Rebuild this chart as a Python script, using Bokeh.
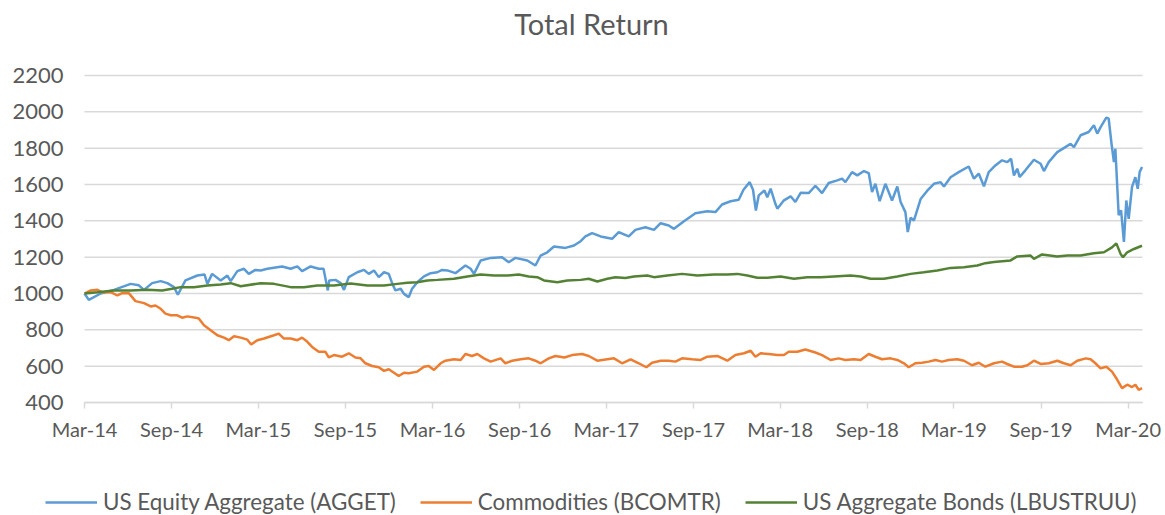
import pandas as pd
from bokeh.plotting import figure
from bokeh.models import Range1d, FixedTicker, DatetimeTickFormatter, Legend, LegendItem, Label
from bokeh.embed import file_html
from bokeh.resources import INLINE

title_text = "Total Return"
series_names = ["US Equity Aggregate (AGGET)", "Commodities (BCOMTR)", "US Aggregate Bonds (LBUSTRUU)"]

equity_dates = [
    "2014-03-31", "2014-04-09", "2014-05-04", "2014-06-01", "2014-07-06", "2014-07-23", "2014-08-03", "2014-08-20",
    "2014-09-07", "2014-09-21", "2014-10-05", "2014-10-13", "2014-10-29", "2014-11-23", "2014-12-08", "2014-12-14",
    "2014-12-24", "2015-01-11", "2015-01-25", "2015-02-01", "2015-02-15", "2015-03-01", "2015-03-11", "2015-03-25",
    "2015-04-05", "2015-04-19", "2015-05-20", "2015-06-07", "2015-06-21", "2015-07-01", "2015-07-19", "2015-08-05",
    "2015-08-15", "2015-08-24", "2015-08-27", "2015-09-09", "2015-09-20", "2015-09-27", "2015-10-07", "2015-10-25",
    "2015-11-08", "2015-11-18", "2015-11-29", "2015-12-09", "2015-12-20", "2015-12-30", "2016-01-06", "2016-01-13",
    "2016-01-24", "2016-01-31", "2016-02-10", "2016-02-17", "2016-02-28", "2016-03-13", "2016-03-27", "2016-04-10",
    "2016-04-20", "2016-05-01", "2016-05-18", "2016-06-08", "2016-06-19", "2016-06-26", "2016-07-10", "2016-07-31",
    "2016-08-24", "2016-09-07", "2016-09-21", "2016-10-16", "2016-11-02", "2016-11-13", "2016-11-27", "2016-12-11",
    "2017-01-04", "2017-01-22", "2017-02-05", "2017-02-15", "2017-03-01", "2017-03-19", "2017-04-12", "2017-04-26",
    "2017-05-17", "2017-05-31", "2017-06-21", "2017-07-09", "2017-07-23", "2017-08-09", "2017-08-20", "2017-09-10",
    "2017-10-04", "2017-10-29", "2017-11-15", "2017-11-29", "2017-12-17", "2018-01-03", "2018-01-13", "2018-01-26",
    "2018-02-02", "2018-02-08", "2018-02-14", "2018-02-26", "2018-03-04", "2018-03-11", "2018-03-21", "2018-03-25",
    "2018-04-08", "2018-04-22", "2018-05-02", "2018-05-13", "2018-05-30", "2018-06-13", "2018-06-27", "2018-07-11",
    "2018-07-29", "2018-08-08", "2018-08-15", "2018-08-29", "2018-09-09", "2018-09-23", "2018-10-03", "2018-10-10",
    "2018-10-17", "2018-10-26", "2018-11-07", "2018-11-21", "2018-12-02", "2018-12-09", "2018-12-19", "2018-12-24",
    "2018-12-30", "2019-01-06", "2019-01-20", "2019-02-03", "2019-02-17", "2019-03-03", "2019-03-10", "2019-03-24",
    "2019-04-10", "2019-05-01", "2019-05-12", "2019-05-22", "2019-06-02", "2019-06-12", "2019-06-26", "2019-07-10",
    "2019-07-21", "2019-07-29", "2019-08-04", "2019-08-11", "2019-08-16", "2019-08-28", "2019-09-15", "2019-09-29",
    "2019-10-06", "2019-10-16", "2019-11-03", "2019-11-20", "2019-12-01", "2019-12-08", "2019-12-22", "2020-01-08",
    "2020-01-19", "2020-01-26", "2020-02-02", "2020-02-14", "2020-02-19", "2020-02-25", "2020-03-01", "2020-03-04",
    "2020-03-08", "2020-03-11", "2020-03-16", "2020-03-22", "2020-03-27", "2020-04-01", "2020-04-08", "2020-04-15",
    "2020-04-20", "2020-04-24", "2020-04-29",
]
equity_values = [
    1000, 965, 1000, 1020, 1053, 1045, 1020, 1057,
    1068, 1057, 1035, 993, 1072, 1099, 1105, 1053,
    1108, 1072, 1099, 1068, 1123, 1136, 1108, 1130,
    1127, 1136, 1149, 1136, 1149, 1123, 1149, 1136,
    1136, 1017, 1072, 1075, 1057, 1020, 1090, 1117,
    1130, 1108, 1127, 1090, 1117, 1108, 1057, 1017,
    1026, 998, 980, 1026, 1062, 1094, 1112, 1117,
    1130, 1127, 1112, 1154, 1136, 1108, 1182, 1196,
    1200, 1172, 1196, 1182, 1154, 1209, 1227, 1259,
    1251, 1264, 1288, 1314, 1332, 1314, 1301, 1338,
    1314, 1350, 1365, 1350, 1387, 1374, 1356, 1398,
    1442, 1453, 1448, 1490, 1508, 1516, 1571, 1613,
    1571, 1457, 1540, 1567, 1530, 1577, 1494, 1467,
    1513, 1535, 1504, 1554, 1553, 1593, 1553, 1608,
    1623, 1632, 1613, 1668, 1650, 1674, 1663, 1558,
    1604, 1508, 1604, 1512, 1589, 1504, 1448, 1338,
    1417, 1402, 1520, 1566, 1604, 1613, 1589, 1640,
    1668, 1699, 1632, 1660, 1590, 1668, 1705, 1733,
    1723, 1742, 1650, 1687, 1641, 1678, 1736, 1714,
    1674, 1723, 1778, 1806, 1824, 1806, 1871, 1889,
    1926, 1880, 1916, 1968, 1962, 1824, 1723, 1797,
    1587, 1431, 1458, 1284, 1512, 1411, 1587, 1640,
    1576, 1668, 1696,
]

commod_dates = [
    "2014-03-31", "2014-04-13", "2014-04-27", "2014-05-07", "2014-05-25", "2014-06-08", "2014-06-18", "2014-07-02",
    "2014-07-16", "2014-08-03", "2014-08-17", "2014-08-27", "2014-09-07", "2014-09-17", "2014-09-28", "2014-10-12",
    "2014-10-22", "2014-11-02", "2014-11-19", "2014-11-26", "2014-12-07", "2014-12-21", "2015-01-04", "2015-01-18",
    "2015-01-28", "2015-02-08", "2015-02-22", "2015-03-08", "2015-03-16", "2015-03-29", "2015-04-12", "2015-05-03",
    "2015-05-13", "2015-05-24", "2015-06-07", "2015-06-21", "2015-07-01", "2015-07-12", "2015-07-22", "2015-08-05",
    "2015-08-19", "2015-08-26", "2015-09-06", "2015-09-23", "2015-10-07", "2015-10-21", "2015-11-01", "2015-11-11",
    "2015-11-25", "2015-12-09", "2015-12-20", "2015-12-30", "2016-01-10", "2016-01-20", "2016-01-31", "2016-02-10",
    "2016-02-28", "2016-03-13", "2016-03-23", "2016-04-03", "2016-04-17", "2016-04-27", "2016-05-15", "2016-05-29",
    "2016-06-08", "2016-06-22", "2016-07-03", "2016-07-17", "2016-07-31", "2016-08-21", "2016-08-31", "2016-09-14",
    "2016-10-02", "2016-10-19", "2016-11-02", "2016-11-13", "2016-11-30", "2016-12-14", "2017-01-02", "2017-01-18",
    "2017-02-08", "2017-02-22", "2017-03-12", "2017-04-02", "2017-04-16", "2017-05-03", "2017-05-21", "2017-06-07",
    "2017-06-23", "2017-07-05", "2017-07-23", "2017-08-09", "2017-08-23", "2017-09-06", "2017-09-27", "2017-10-15",
    "2017-10-29", "2017-11-19", "2017-12-10", "2017-12-27", "2018-01-14", "2018-01-28", "2018-02-07", "2018-02-18",
    "2018-03-07", "2018-03-25", "2018-04-08", "2018-04-18", "2018-05-06", "2018-05-23", "2018-06-13", "2018-06-27",
    "2018-07-15", "2018-08-01", "2018-08-15", "2018-09-02", "2018-09-16", "2018-10-03", "2018-10-17", "2018-10-31",
    "2018-11-18", "2018-12-02", "2018-12-16", "2018-12-26", "2019-01-09", "2019-01-23", "2019-02-06", "2019-02-20",
    "2019-03-06", "2019-03-20", "2019-04-07", "2019-04-21", "2019-05-08", "2019-05-22", "2019-06-05", "2019-06-23",
    "2019-07-10", "2019-07-21", "2019-08-04", "2019-08-21", "2019-09-01", "2019-09-15", "2019-09-29", "2019-10-16",
    "2019-11-03", "2019-11-17", "2019-12-01", "2019-12-15", "2020-01-02", "2020-01-12", "2020-01-22", "2020-02-02",
    "2020-02-14", "2020-02-26", "2020-03-08", "2020-03-18", "2020-03-29", "2020-04-08", "2020-04-15", "2020-04-22",
    "2020-04-29",
]
commod_values = [
    1000, 1017, 1020, 1007, 1007, 989, 1002, 1002,
    958, 947, 929, 934, 916, 889, 880, 880,
    867, 874, 867, 862, 825, 798, 770, 757,
    743, 765, 757, 746, 719, 743, 752, 770,
    779, 752, 752, 743, 757, 734, 706, 679,
    679, 648, 661, 652, 671, 648, 643, 616,
    601, 594, 574, 583, 564, 546, 564, 561,
    570, 597, 601, 579, 616, 630, 638, 634,
    667, 656, 667, 643, 625, 643, 616, 630,
    638, 643, 630, 616, 643, 656, 648, 661,
    667, 656, 630, 638, 643, 616, 638, 616,
    594, 619, 630, 630, 625, 643, 638, 634,
    652, 656, 630, 661, 671, 685, 652, 671,
    667, 661, 661, 679, 679, 692, 675, 661,
    634, 643, 634, 638, 634, 667, 652, 638,
    643, 634, 616, 594, 616, 619, 625, 634,
    625, 634, 638, 630, 605, 619, 597, 616,
    625, 612, 597, 597, 605, 630, 612, 616,
    630, 616, 605, 630, 643, 638, 616, 588,
    597, 570, 525, 479, 498, 485, 498, 470,
    479,
]

bond_dates = [
    "2014-03-31", "2014-04-27", "2014-06-01", "2014-07-06", "2014-08-10", "2014-09-10", "2014-10-01", "2014-10-19",
    "2014-11-16", "2014-12-14", "2015-01-11", "2015-02-01", "2015-02-22", "2015-04-05", "2015-05-03", "2015-06-07",
    "2015-07-05", "2015-08-02", "2015-09-06", "2015-10-11", "2015-11-15", "2015-12-20", "2016-01-17", "2016-02-07",
    "2016-02-28", "2016-03-20", "2016-04-10", "2016-05-15", "2016-06-12", "2016-07-10", "2016-08-07", "2016-09-04",
    "2016-09-28", "2016-10-19", "2016-11-06", "2016-11-20", "2016-12-18", "2017-01-08", "2017-02-05", "2017-02-22",
    "2017-03-12", "2017-04-02", "2017-04-19", "2017-05-10", "2017-05-28", "2017-06-25", "2017-07-09", "2017-08-06",
    "2017-09-06", "2017-10-08", "2017-11-12", "2017-12-10", "2017-12-31", "2018-01-21", "2018-02-11", "2018-03-04",
    "2018-04-01", "2018-04-29", "2018-05-27", "2018-06-24", "2018-07-22", "2018-08-26", "2018-09-16", "2018-10-07",
    "2018-11-04", "2018-12-02", "2018-12-30", "2019-01-27", "2019-02-24", "2019-03-24", "2019-04-21", "2019-05-19",
    "2019-06-05", "2019-06-23", "2019-07-28", "2019-08-11", "2019-09-08", "2019-09-15", "2019-10-02", "2019-11-03",
    "2019-11-24", "2019-12-22", "2020-01-19", "2020-02-09", "2020-02-26", "2020-03-06", "2020-03-15", "2020-03-20",
    "2020-03-29", "2020-04-12", "2020-04-29",
]
bond_values = [
    1000, 1007, 1017, 1017, 1020, 1017, 1026, 1035,
    1035, 1044, 1050, 1057, 1040, 1057, 1053, 1035,
    1035, 1044, 1044, 1055, 1044, 1044, 1053, 1059,
    1062, 1072, 1075, 1081, 1094, 1105, 1099, 1099,
    1105, 1094, 1090, 1072, 1062, 1072, 1075, 1081,
    1066, 1081, 1090, 1085, 1094, 1099, 1090, 1099,
    1108, 1099, 1105, 1105, 1108, 1099, 1087, 1087,
    1094, 1081, 1090, 1090, 1094, 1099, 1094, 1081,
    1081, 1094, 1108, 1117, 1127, 1141, 1145, 1154,
    1167, 1174, 1182, 1204, 1209, 1191, 1215, 1204,
    1209, 1209, 1222, 1227, 1254, 1276, 1218, 1200,
    1227, 1245, 1263,
]

x_tick_dates = ["2014-03-31", "2014-09-30", "2015-03-31", "2015-09-30", "2016-03-31", "2016-09-30", "2017-03-31",
                "2017-09-30", "2018-03-31", "2018-09-30", "2019-03-31", "2019-09-30", "2020-03-31"]
x_start, x_end = "2014-03-31", "2020-04-30"
y_ticks = [400, 600, 800, 1000, 1200, 1400, 1600, 1800, 2000, 2200]

colors = ["#5b9bd5", "#ed7d31", "#548235"]
FONT = "Lato"
TXT = "#595959"
GRID = "#d9d9d9"

# page layout (pixels): canvas size and plot-area edges
W, H = 1165, 515
PL, PR, PT, PB = 84, 1142, 75, 402
TITLE_X, TITLE_Y = 591, 23
LEGEND_LEFT = 45

t0, t1 = pd.Timestamp(x_start), pd.Timestamp(x_end)
per_px_x = (t1 - t0) / (PR - PL)
per_px_y = (y_ticks[-1] - y_ticks[0]) / (PB - PT)
x_range = Range1d(t0 - PL * per_px_x, t1 + (W - PR) * per_px_x)
y_range = Range1d(y_ticks[0] - (H - PB) * per_px_y, y_ticks[-1] + PT * per_px_y)


def ms(ts):
    return ts.value / 1e6


p = figure(width=W, height=H, x_axis_type="datetime", output_backend="svg", toolbar_location=None,
           x_range=x_range, y_range=y_range, min_border=0)
p.outline_line_color = None
p.background_fill_color = "white"
p.border_fill_color = "white"
p.xgrid.visible = False
p.ygrid.visible = False

# horizontal gridlines across the plot area only
p.segment(x0=[t0] * len(y_ticks), x1=[t1] * len(y_ticks), y0=y_ticks, y1=y_ticks,
          line_color=GRID, line_width=1.5)

r1 = p.line(pd.to_datetime(equity_dates), equity_values, line_color=colors[0], line_width=2.5)
r2 = p.line(pd.to_datetime(commod_dates), commod_values, line_color=colors[1], line_width=2.5)
r3 = p.line(pd.to_datetime(bond_dates), bond_values, line_color=colors[2], line_width=2.5)

tick_ms = [ms(t) for t in pd.to_datetime(x_tick_dates)]
xax = p.xaxis[0]
xax.fixed_location = y_ticks[0]
xax.bounds = (ms(t0), ms(t1))
xax.ticker = FixedTicker(ticks=tick_ms)
xax.formatter = DatetimeTickFormatter(days="%b-%y", months="%b-%y", years="%b-%y")
xax.axis_line_color = GRID
xax.axis_line_width = 1.5
xax.major_tick_line_color = GRID
xax.major_tick_line_width = 1.5
xax.major_tick_out = 6
xax.major_tick_in = 0
xax.minor_tick_line_color = None
xax.major_label_standoff = 8
xax.major_label_text_font = FONT
xax.major_label_text_font_size = "20px"
xax.major_label_text_color = TXT

yax = p.yaxis[0]
yax.fixed_location = ms(t0)
yax.bounds = (y_ticks[0], y_ticks[-1])
yax.ticker = FixedTicker(ticks=y_ticks)
yax.axis_line_color = None
yax.major_tick_line_color = None
yax.minor_tick_line_color = None
yax.major_tick_out = 0
yax.major_tick_in = 0
yax.major_label_standoff = 21
yax.major_label_text_font = FONT
yax.major_label_text_font_size = "22px"
yax.major_label_text_color = TXT

title = Label(x=ms(t0 + (TITLE_X - PL) * per_px_x), y=y_ticks[-1] + (PT - TITLE_Y) * per_px_y,
              text=title_text, text_align="center", text_baseline="middle",
              text_font=FONT, text_font_size="29px", text_color=TXT)
p.add_layout(title)

legend = Legend(items=[LegendItem(label=series_names[0], renderers=[r1]),
                       LegendItem(label=series_names[1], renderers=[r2]),
                       LegendItem(label=series_names[2], renderers=[r3])],
                orientation="horizontal", location=(LEGEND_LEFT, 0),
                glyph_width=52, glyph_height=20, label_standoff=6, spacing=24,
                label_text_font=FONT, label_text_font_size="22.4px", label_text_color=TXT,
                border_line_color=None, background_fill_alpha=0, padding=0, margin=0)
p.add_layout(legend, "center")

open("out.html", "w").write(file_html(p, INLINE))
